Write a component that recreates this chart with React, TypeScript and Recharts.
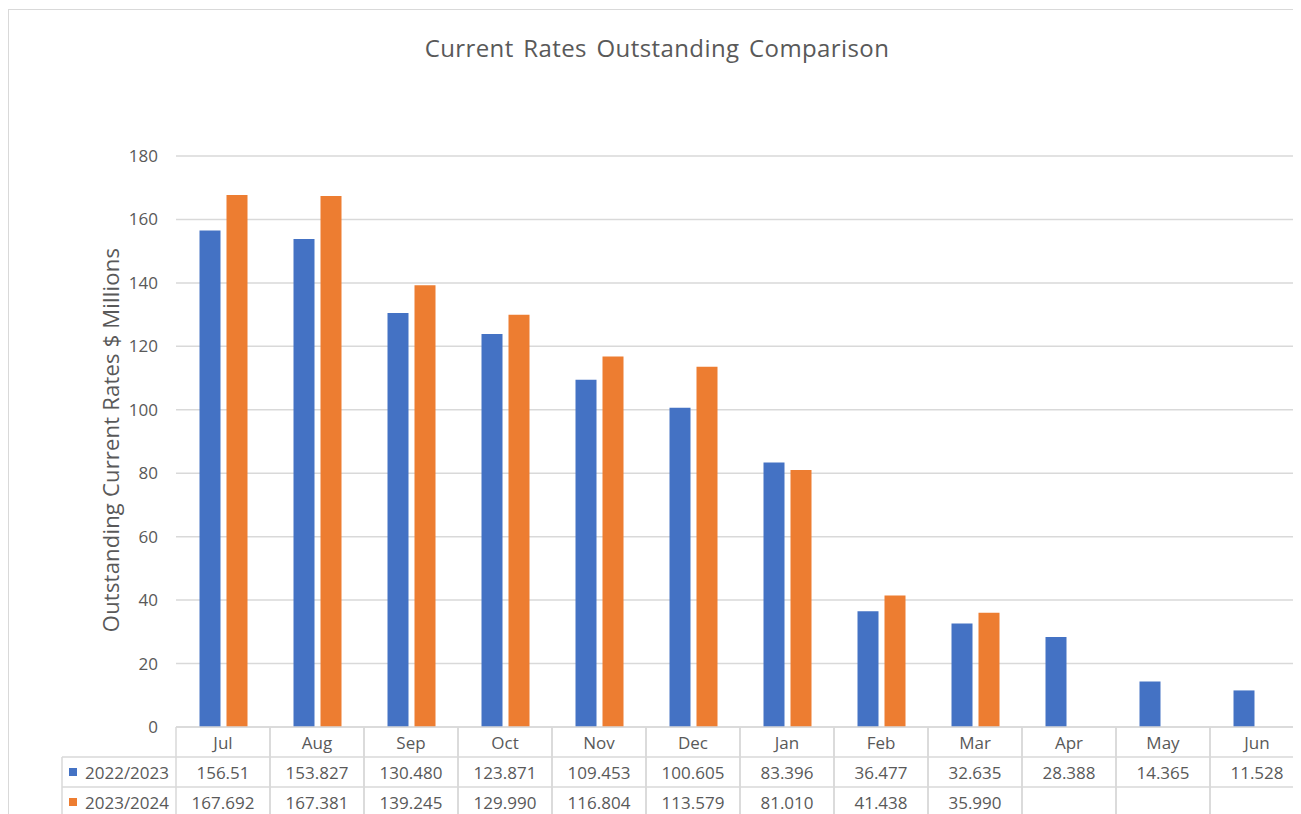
import React from 'react';
import { BarChart, Bar, XAxis, YAxis, CartesianGrid, Customized } from 'recharts';

const months = ['Jul', 'Aug', 'Sep', 'Oct', 'Nov', 'Dec', 'Jan', 'Feb', 'Mar', 'Apr', 'May', 'Jun'];
const series1Name = '2022/2023';
const series2Name = '2023/2024';
const series1 = [156.51, 153.827, 130.48, 123.871, 109.453, 100.605, 83.396, 36.477, 32.635, 28.388, 14.365, 11.528];
const series2: (number | null)[] = [167.692, 167.381, 139.245, 129.99, 116.804, 113.579, 81.01, 41.438, 35.99, null, null, null];
const series1Labels = ['156.51', '153.827', '130.480', '123.871', '109.453', '100.605', '83.396', '36.477', '32.635', '28.388', '14.365', '11.528'];
const series2Labels = ['167.692', '167.381', '139.245', '129.990', '116.804', '113.579', '81.010', '41.438', '35.990', '', '', ''];
const yTicks = [0, 20, 40, 60, 80, 100, 120, 140, 160, 180];

const title = 'Current Rates Outstanding Comparison';
const yLabel = 'Outstanding Current Rates $ Millions';

const BLUE = '#4472C4';
const ORANGE = '#ED7D31';
const GRID = '#D9D9D9';
const TEXT = '#595959';
const FONT = '"Open Sans", sans-serif';
const ROW = 30;

const data = months.map((m, i) => ({ month: m, s1: series1[i], s2: series2[i] }));

const TableTick = (props: any) => {
  const { x, y, payload } = props;
  const idx = payload.index;
  const half = payload.offset && payload.offset > 0 ? payload.offset : 47;
  const left = x - half;
  const right = x + half;
  const fs = 17;
  return (
    <g>
      <line x1={left} y1={y} x2={left} y2={y + ROW * 3} stroke={GRID} strokeWidth={1.5} />
      <line x1={right} y1={y} x2={right} y2={y + ROW * 3} stroke={GRID} strokeWidth={1.5} />
      <line x1={left} y1={y + ROW} x2={right} y2={y + ROW} stroke={GRID} strokeWidth={1.5} />
      <line x1={left} y1={y + ROW * 2} x2={right} y2={y + ROW * 2} stroke={GRID} strokeWidth={1.5} />
      <text x={x} y={y + ROW * 0.5} textAnchor="middle" dominantBaseline="central" fill={TEXT} fontSize={fs} fontFamily={FONT}>
        {months[idx]}
      </text>
      <text x={x} y={y + ROW * 1.5} textAnchor="middle" dominantBaseline="central" fill={TEXT} fontSize={fs} fontFamily={FONT}>
        {series1Labels[idx]}
      </text>
      <text x={x} y={y + ROW * 2.5} textAnchor="middle" dominantBaseline="central" fill={TEXT} fontSize={fs} fontFamily={FONT}>
        {series2Labels[idx]}
      </text>
    </g>
  );
};

const Decorations = () => {
  const tableTop = 727;
  const legLeft = 62;
  const legRight = 176;
  return (
    <g>
      <text x={657} y={47} textAnchor="middle" dominantBaseline="central" fill={TEXT} fontSize={24} fontFamily={FONT} style={{ letterSpacing: 0.4, wordSpacing: 3 }}>
        {title}
      </text>
      <text
        x={110}
        y={440}
        textAnchor="middle"
        dominantBaseline="central"
        fill={TEXT}
        fontSize={22}
        fontFamily={FONT}
        transform="rotate(-90 110 440)"
        style={{ letterSpacing: 0.2 }}
      >
        {yLabel}
      </text>
      <line x1={legLeft} y1={tableTop + ROW} x2={legRight} y2={tableTop + ROW} stroke={GRID} strokeWidth={1.5} />
      <line x1={legLeft} y1={tableTop + ROW * 2} x2={legRight} y2={tableTop + ROW * 2} stroke={GRID} strokeWidth={1.5} />
      <line x1={legLeft} y1={tableTop + ROW} x2={legLeft} y2={tableTop + ROW * 3} stroke={GRID} strokeWidth={1.5} />
      <rect x={69} y={tableTop + ROW * 1.5 - 4} width={8} height={8} fill={BLUE} />
      <text x={85} y={tableTop + ROW * 1.5} dominantBaseline="central" fill={TEXT} fontSize={17} fontFamily={FONT}>
        {series1Name}
      </text>
      <rect x={69} y={tableTop + ROW * 2.5 - 4} width={8} height={8} fill={ORANGE} />
      <text x={85} y={tableTop + ROW * 2.5} dominantBaseline="central" fill={TEXT} fontSize={17} fontFamily={FONT}>
        {series2Name}
      </text>
    </g>
  );
};

export default function App() {
  return (
    <div style={{ position: 'relative', marginLeft: -8, marginTop: -8, width: 1301, height: 814, overflow: 'hidden', background: '#fff', fontFamily: FONT }}>
      <div style={{ position: 'absolute', left: 8, top: 9, width: 1400, height: 900, borderLeft: `1px solid ${GRID}`, borderTop: `1.5px solid ${GRID}` }} />
      <div style={{ position: 'absolute', left: 0, top: 0 }}>
        <BarChart
          width={1310}
          height={814}
          data={data}
          margin={{ top: 156, right: 6, left: 0, bottom: 0 }}
          barCategoryGap="25%"
          barGap={6}
        >
          <CartesianGrid vertical={false} stroke={GRID} strokeWidth={1.5} />
          <XAxis
            dataKey="month"
            height={87}
            axisLine={{ stroke: GRID, strokeWidth: 1.5 }}
            tickLine={false}
            tickSize={0}
            tickMargin={0}
            interval={0}
            tick={(p: any) => <TableTick {...p} />}
          />
          <YAxis
            width={176}
            domain={[0, 180]}
            ticks={yTicks}
            axisLine={false}
            tickLine={false}
            tickSize={0}
            tickMargin={18}
            tick={{ fill: TEXT, fontSize: 17, fontFamily: FONT }}
            interval={0}
          />
          <Bar dataKey="s1" name={series1Name} fill={BLUE} isAnimationActive={false} />
          <Bar dataKey="s2" name={series2Name} fill={ORANGE} isAnimationActive={false} />
          <Customized component={Decorations} />
        </BarChart>
      </div>
    </div>
  );
}
